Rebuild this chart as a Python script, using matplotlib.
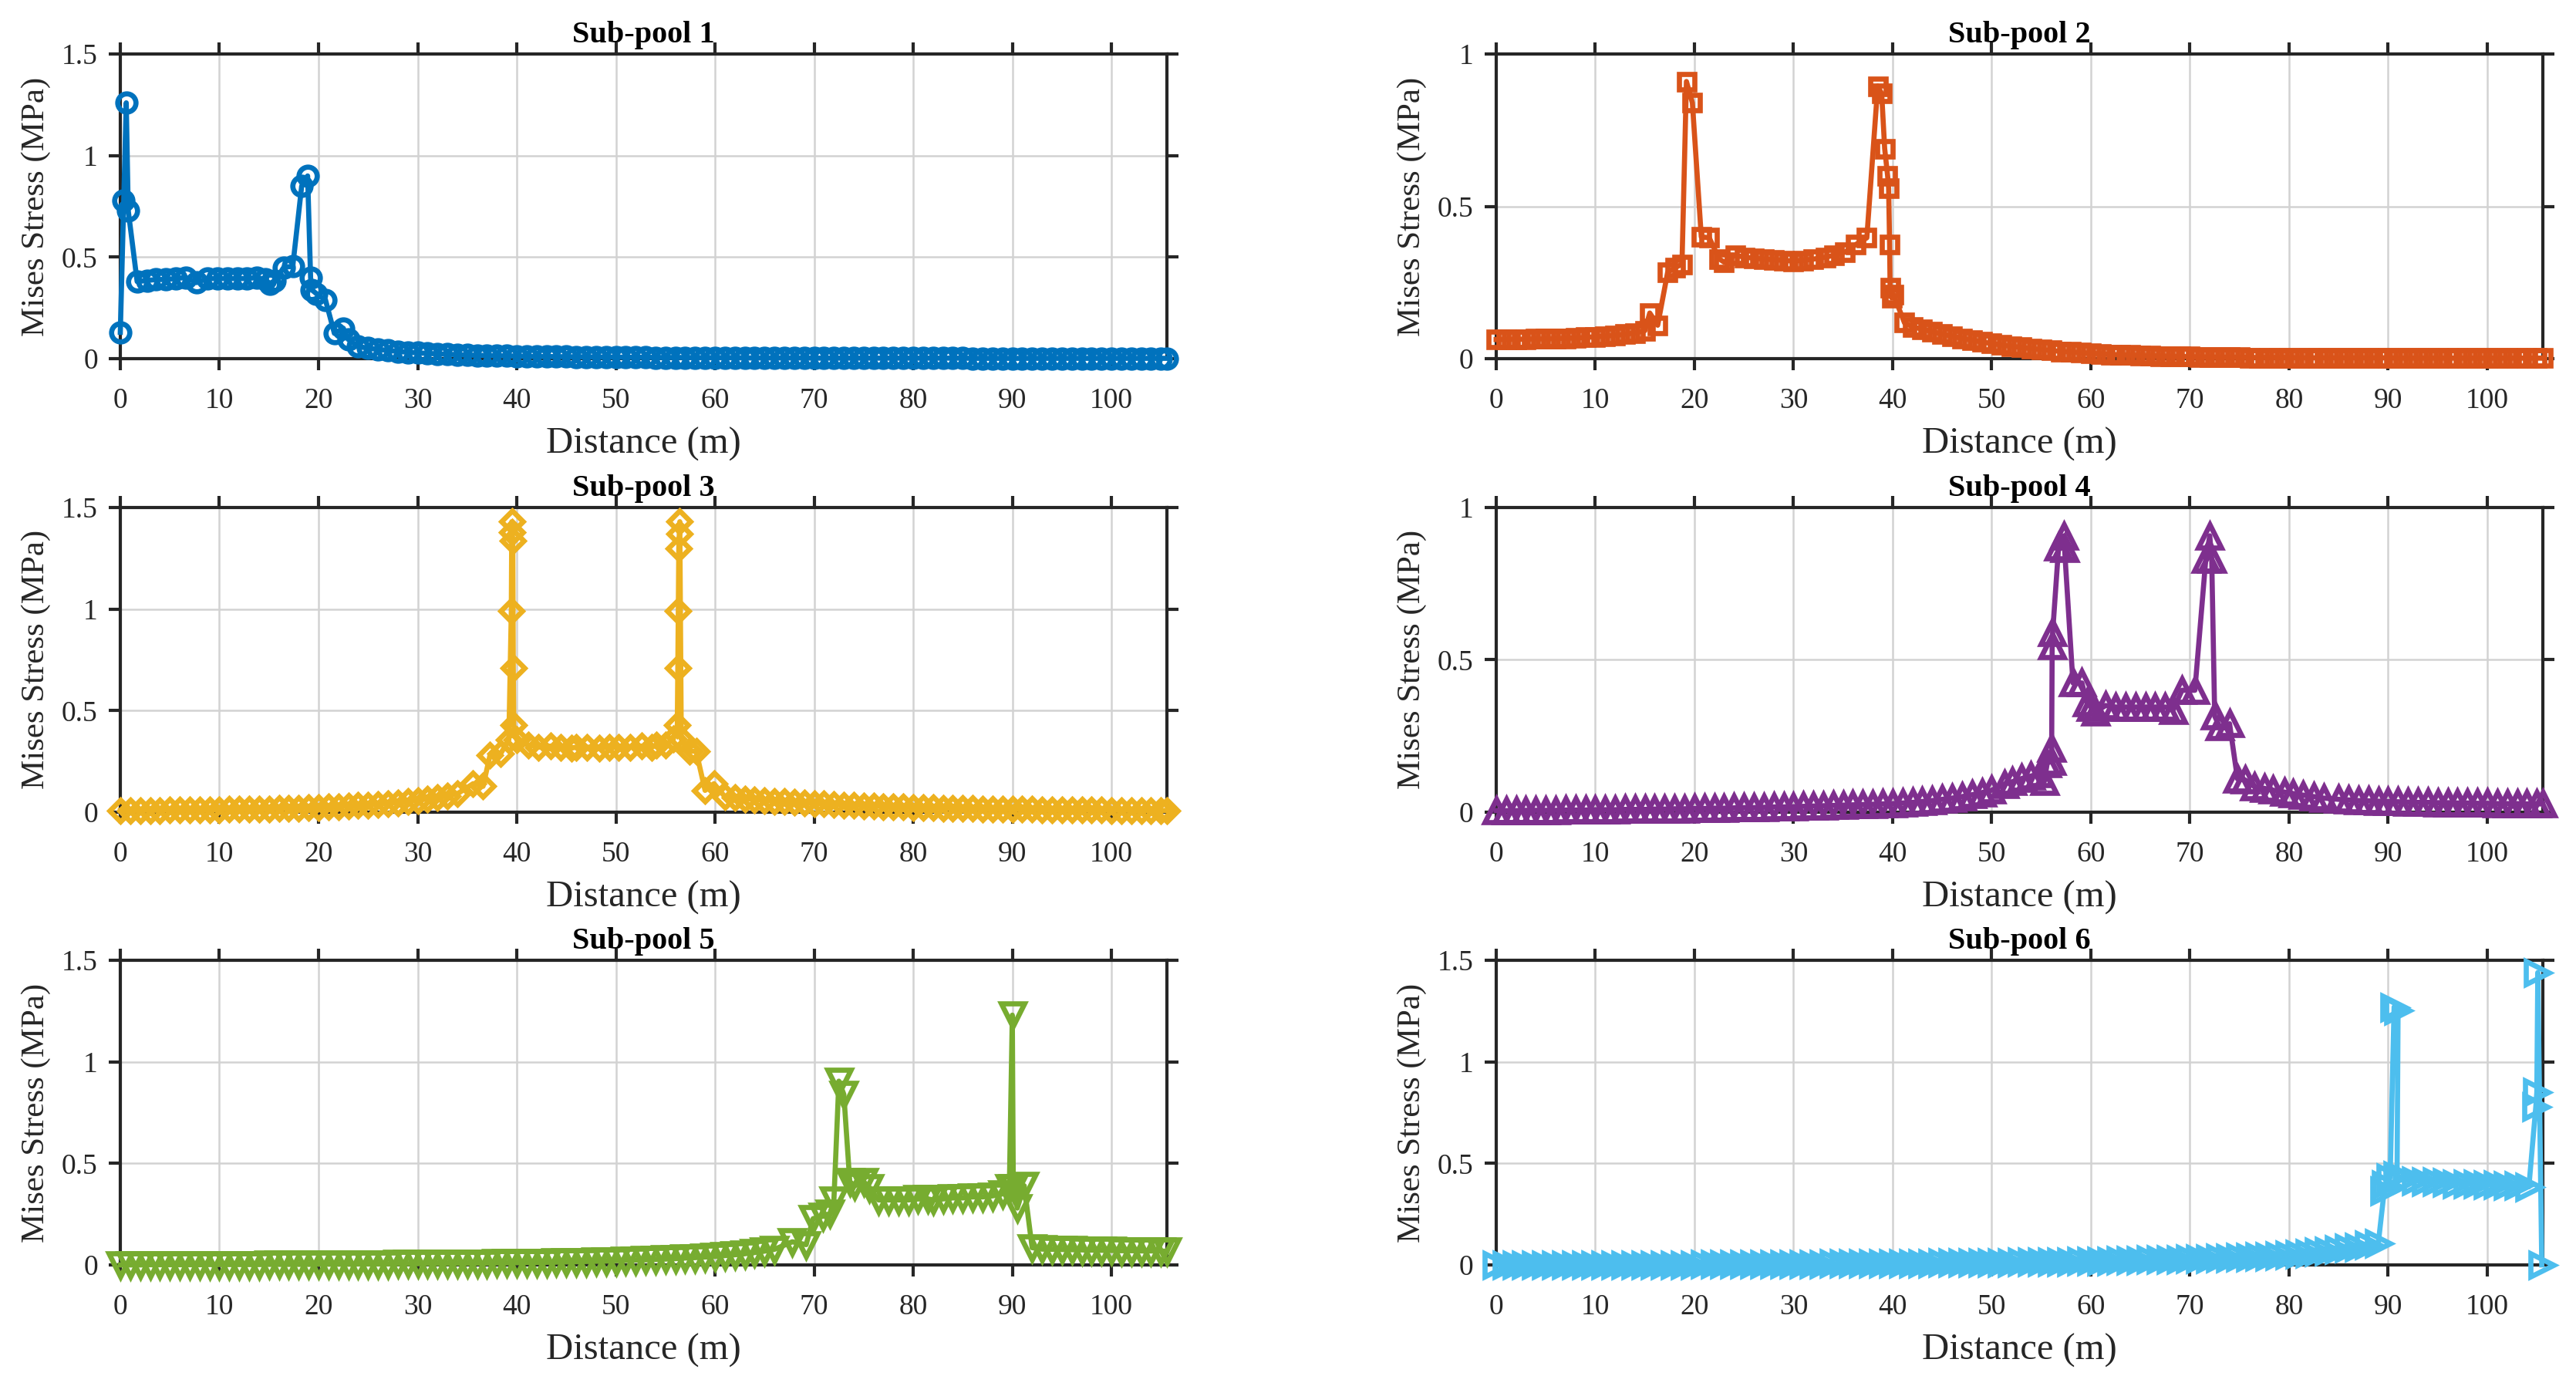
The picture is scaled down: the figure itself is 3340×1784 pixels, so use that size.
import matplotlib
matplotlib.use("Agg")
import matplotlib.pyplot as plt

plt.rcParams["font.family"] = ["Liberation Serif", "DejaVu Serif"]

# ---------------- data ----------------
grid_m = [0, 1, 2, 3, 4, 5, 6, 7, 8, 9, 10, 11, 12, 13, 14, 15, 16, 17, 18, 19,
          20, 21, 22, 23, 24, 25, 26, 27, 28, 29, 30, 31, 32, 33, 34, 35, 36, 37, 38, 39,
          40, 41, 42, 43, 44, 45, 46, 47, 48, 49, 50, 51, 52, 53, 54, 55, 56, 57, 58, 59,
          60, 61, 62, 63, 64, 65, 66, 67, 68, 69, 70, 71, 72, 73, 74, 75, 76, 77, 78, 79,
          80, 81, 82, 83, 84, 85, 86, 87, 88, 89, 90, 91, 92, 93, 94, 95, 96, 97, 98, 99,
          100, 101, 102, 103, 104, 105]
end_m = [105.6]

titles = ["Sub-pool 1", "Sub-pool 2", "Sub-pool 3", "Sub-pool 4", "Sub-pool 5", "Sub-pool 6"]
x_ticks = [0, 10, 20, 30, 40, 50, 60, 70, 80, 90, 100]
y_ticks_15 = [0, 0.5, 1, 1.5]
y_labels_15 = ["0", "0.5", "1", "1.5"]
y_ticks_10 = [0, 0.5, 1]
y_labels_10 = ["0", "0.5", "1"]

# Sub-pool 1
x1_peak = [0.0, 0.35, 0.6, 0.8, 1.7, 2.7, 3.6, 4.6, 5.6, 6.6, 7.7, 8.8, 9.8, 10.8, 11.8,
           12.8, 13.8, 14.6, 15.1, 15.6, 16.5, 17.4, 18.3, 18.9, 19.2, 19.3, 19.8, 20.7,
           21.6, 22.5, 23.0, 24.0]
y1_peak = [0.13, 0.78, 1.26, 0.73, 0.38, 0.385, 0.39, 0.39, 0.395, 0.40, 0.375, 0.395,
           0.395, 0.395, 0.395, 0.395, 0.40, 0.39, 0.37, 0.385, 0.45, 0.455, 0.85, 0.90,
           0.40, 0.34, 0.32, 0.29, 0.125, 0.15, 0.095, 0.06]
y1_tail = [0.052, 0.046, 0.041, 0.036, 0.032, 0.029, 0.026, 0.024, 0.022, 0.020,
           0.018, 0.017, 0.016, 0.015, 0.014, 0.013, 0.012, 0.011, 0.011, 0.010,
           0.010, 0.009, 0.009, 0.008, 0.008, 0.008, 0.007, 0.007, 0.007, 0.006,
           0.006, 0.006, 0.006, 0.005, 0.005, 0.005,
           0.005, 0.005, 0.004, 0.004, 0.004, 0.004, 0.004, 0.004, 0.004, 0.003,
           0.003, 0.003, 0.003, 0.003, 0.003, 0.003, 0.003, 0.003, 0.003, 0.003,
           0.003, 0.003, 0.003, 0.003, 0.003, 0.002, 0.002, 0.002, 0.002, 0.002,
           0.002, 0.002, 0.002, 0.002, 0.002, 0.002, 0.002, 0.002, 0.002, 0.002,
           0.002, 0.002, 0.002, 0.002, 0.002, 0.002]
x1 = x1_peak + grid_m[25:] + end_m
y1 = y1_peak + y1_tail

# Sub-pool 2
y2_head = [0.063, 0.063, 0.064, 0.064, 0.065, 0.065, 0.066, 0.067, 0.068, 0.070,
           0.072, 0.074, 0.077, 0.080, 0.085, 0.092]
x2_peak = [15.5, 16.3, 17.3, 18.1, 18.75, 19.2, 19.8, 20.7, 21.5, 22.5, 23.0, 24.1, 25.1,
           26.0, 27.0, 28.0, 29.0, 30.0, 31.0, 32.0, 33.2, 34.1, 35.2, 36.3, 37.4, 38.5,
           38.9, 39.2, 39.5, 39.6, 39.7, 39.75, 39.9, 40.1, 41.2]
y2_peak = [0.15, 0.11, 0.283, 0.30, 0.31, 0.91, 0.84, 0.40, 0.397, 0.328, 0.317, 0.34,
           0.333, 0.33, 0.327, 0.325, 0.323, 0.32, 0.323, 0.327, 0.333, 0.34, 0.35, 0.375,
           0.397, 0.895, 0.87, 0.69, 0.60, 0.56, 0.376, 0.232, 0.20, 0.21, 0.118]
y2_tail = [0.105, 0.097, 0.089, 0.081, 0.074, 0.067, 0.061, 0.055, 0.050, 0.045,
           0.041, 0.037, 0.033, 0.030, 0.027, 0.024, 0.022, 0.020, 0.018, 0.016,
           0.014, 0.013, 0.012, 0.011, 0.010, 0.009, 0.008, 0.007, 0.007,
           0.006, 0.006, 0.005, 0.005, 0.005, 0.004, 0.004, 0.004, 0.004, 0.004,
           0.003, 0.003, 0.003, 0.003, 0.003, 0.003, 0.003, 0.003, 0.003, 0.003,
           0.002, 0.002, 0.002, 0.002, 0.002, 0.002, 0.002, 0.002, 0.002, 0.002,
           0.002, 0.002, 0.002, 0.002, 0.002, 0.002]
x2 = grid_m[0:16] + x2_peak + grid_m[42:] + end_m
y2 = y2_head + y2_peak + y2_tail

# Sub-pool 3
y3_head = [0.008, 0.008, 0.009, 0.009, 0.009, 0.010, 0.010, 0.011, 0.011, 0.012,
           0.012, 0.013, 0.014, 0.014, 0.015, 0.016, 0.017, 0.018, 0.020, 0.021,
           0.023, 0.025, 0.027, 0.029, 0.032, 0.035, 0.038, 0.042, 0.047, 0.052,
           0.058, 0.065, 0.072, 0.080, 0.090]
x3_peak = [35.6, 36.6, 37.3, 38.4, 39.2, 39.45, 39.5, 39.55, 39.6, 39.65, 39.7, 40.0,
           41.2, 42.2, 43.4, 44.4, 45.5, 46.0, 47.1, 48.3, 49.3, 50.3, 51.4, 52.6, 53.6,
           54.1, 55.0, 55.8, 56.2, 56.25, 56.3, 56.35, 56.4, 56.45, 56.6, 57.4, 58.1,
           59.0, 59.9]
y3_peak = [0.14, 0.127, 0.28, 0.29, 0.355, 0.99, 1.43, 1.38, 1.335, 0.71, 0.43, 0.355,
           0.33, 0.32, 0.325, 0.32, 0.315, 0.32, 0.32, 0.315, 0.32, 0.32, 0.32, 0.325,
           0.32, 0.33, 0.33, 0.36, 0.43, 0.71, 0.99, 1.30, 1.37, 1.43, 0.36, 0.30, 0.30,
           0.107, 0.14]
y3_tail = [0.076, 0.071, 0.066, 0.062, 0.058, 0.054, 0.051, 0.048, 0.045, 0.042,
           0.040, 0.037, 0.035, 0.033, 0.031, 0.029, 0.028, 0.026, 0.025, 0.023,
           0.022, 0.021, 0.020, 0.019, 0.018, 0.017, 0.016, 0.015, 0.015, 0.014,
           0.013, 0.013, 0.012, 0.012, 0.011, 0.011, 0.010, 0.010, 0.010, 0.009,
           0.009, 0.009, 0.008, 0.008, 0.008, 0.008]
x3 = grid_m[0:35] + x3_peak + grid_m[61:] + end_m
y3 = y3_head + y3_peak + y3_tail

# Sub-pool 4
y4_head = [0.005, 0.005, 0.005, 0.006, 0.006, 0.006, 0.006, 0.007, 0.007, 0.007,
           0.008, 0.008, 0.008, 0.009, 0.009, 0.009, 0.010, 0.010, 0.011, 0.011,
           0.012, 0.012, 0.013, 0.013, 0.014, 0.015, 0.015, 0.016, 0.017, 0.017,
           0.018, 0.019, 0.020, 0.021, 0.022, 0.023, 0.024, 0.025, 0.026, 0.027,
           0.028, 0.030, 0.032, 0.035, 0.038, 0.042, 0.046, 0.051, 0.057, 0.064,
           0.072]
x4_peak = [51.3, 52.1, 53.0, 53.9, 54.9, 55.3, 55.6, 56.0, 56.05, 56.1, 56.15, 56.75,
           57.3, 57.35, 58.2, 59.1, 59.6, 60.0, 60.5, 61.5, 62.5, 63.5, 64.5, 65.5, 66.5,
           67.5, 68.3, 69.2, 70.5, 71.6, 72.0, 72.2, 72.5, 73.0, 74.0, 74.8, 75.6, 76.5,
           77.5, 78.4, 79.5, 80.4, 81.4, 82.5, 83.5]
y4_peak = [0.092, 0.10, 0.11, 0.118, 0.126, 0.10, 0.16, 0.168, 0.21, 0.546, 0.59, 0.87,
           0.907, 0.865, 0.424, 0.424, 0.36, 0.345, 0.33, 0.35, 0.345, 0.345, 0.345,
           0.345, 0.345, 0.345, 0.335, 0.40, 0.40, 0.83, 0.907, 0.83, 0.315, 0.28, 0.29,
           0.109, 0.105, 0.084, 0.078, 0.072, 0.066, 0.061, 0.056, 0.051, 0.046]
y4_tail = [0.042, 0.040, 0.038, 0.037, 0.036, 0.035, 0.034, 0.033, 0.032, 0.032,
           0.031, 0.031, 0.030, 0.030, 0.029, 0.029, 0.028, 0.028, 0.028, 0.027,
           0.027, 0.027]
x4 = grid_m[0:51] + x4_peak + grid_m[85:] + end_m
y4 = y4_head + y4_peak + y4_tail

# Sub-pool 5
y5_head = [0.000, 0.000, 0.000, 0.001, 0.001, 0.001, 0.001, 0.001, 0.001, 0.002,
           0.002, 0.002, 0.002, 0.002, 0.002, 0.003, 0.003, 0.003, 0.003, 0.003,
           0.004, 0.004, 0.004, 0.004, 0.005, 0.005, 0.005, 0.005, 0.006, 0.006,
           0.006, 0.007, 0.007, 0.007, 0.008, 0.008, 0.009, 0.009, 0.010, 0.010,
           0.011, 0.012, 0.012, 0.013, 0.014, 0.015, 0.016, 0.017, 0.018, 0.019,
           0.021, 0.022, 0.024, 0.025, 0.027, 0.029, 0.031, 0.034, 0.036, 0.039,
           0.042, 0.046, 0.050, 0.055, 0.061, 0.068, 0.077]
x5_peak = [67.8, 69.2, 69.9, 70.9, 71.6, 72.0, 72.5, 73.0, 73.6, 74.1, 75.0, 75.6, 76.5,
           77.5, 78.5, 79.5, 80.5, 81.5, 82.0, 83.0, 84.0, 85.0, 86.0, 87.0, 88.0, 89.0,
           89.7, 90.0, 90.1, 90.5, 91.2, 92.0]
y5_peak = [0.114, 0.10, 0.228, 0.24, 0.253, 0.32, 0.905, 0.84, 0.41, 0.39, 0.41, 0.38,
           0.32, 0.32, 0.32, 0.32, 0.325, 0.325, 0.32, 0.325, 0.33, 0.33, 0.335, 0.335,
           0.34, 0.35, 0.38, 1.23, 0.38, 0.28, 0.39, 0.085]
y5_tail = [0.078, 0.077, 0.076, 0.075, 0.074, 0.073, 0.072, 0.071, 0.070, 0.070,
           0.069, 0.069, 0.068, 0.068]
x5 = grid_m[0:67] + x5_peak + grid_m[93:] + end_m
y5 = y5_head + y5_peak + y5_tail

# Sub-pool 6
y6_head = [0.000, 0.000, 0.000, 0.000, 0.000, 0.000, 0.001, 0.001, 0.001, 0.001,
           0.001, 0.001, 0.001, 0.001, 0.001, 0.002, 0.002, 0.002, 0.002, 0.002,
           0.002, 0.003, 0.003, 0.003, 0.003, 0.003, 0.004, 0.004, 0.004, 0.004,
           0.005, 0.005, 0.005, 0.005, 0.006, 0.006, 0.006, 0.007, 0.007, 0.007,
           0.008, 0.008, 0.009, 0.009, 0.009, 0.010, 0.010, 0.011, 0.011, 0.012,
           0.012, 0.013, 0.013, 0.014, 0.015, 0.015, 0.016, 0.017, 0.017, 0.018,
           0.019, 0.020, 0.021, 0.022, 0.023, 0.024, 0.025, 0.026, 0.027, 0.028,
           0.030, 0.031, 0.032, 0.034, 0.035, 0.037, 0.039, 0.041, 0.043, 0.045,
           0.048, 0.052, 0.058, 0.064, 0.070, 0.076, 0.083, 0.089, 0.097]
x6_peak = [89.0, 89.6, 89.7, 90.2, 90.6, 91.0, 90.9, 91.8, 92.8, 93.8, 94.9, 95.9, 96.9,
           98.0, 99.0, 100.0, 101.0, 102.0, 103.1, 104.2, 104.9, 105.0, 105.1, 105.5]
y6_peak = [0.105, 0.364, 0.395, 0.43, 1.27, 1.255, 0.44, 0.42, 0.415, 0.41, 0.41, 0.405,
           0.40, 0.40, 0.40, 0.395, 0.395, 0.39, 0.39, 0.385, 0.78, 0.85, 1.44, 0.0]
x6 = grid_m[0:89] + x6_peak
y6 = y6_head + y6_peak

series_x = [x1, x2, x3, x4, x5, x6]
series_y = [y1, y2, y3, y4, y5, y6]
y_max = [1.5, 1.0, 1.5, 1.0, 1.5, 1.5]

# ---------------- style ----------------
colors = ["#0072BD", "#D95319", "#EDB120", "#7E2F8E", "#77AC30", "#4DBEEE"]
markers = ["o", "s", "D", "^", "v", ">"]
msizes = [8.5, 7.2, 7.0, 11.0, 11.0, 11.0]
axc = "#262626"

fig = plt.figure(figsize=(16.7, 8.92), dpi=200)
lefts = [0.0467, 0.5808]
bottoms = [0.7393, 0.4098, 0.0807]
w, h = 0.4063, 0.2214

for i in range(6):
    r, c = divmod(i, 2)
    ax = fig.add_axes([lefts[c], bottoms[r], w, h])
    ax.plot(series_x[i], series_y[i], color=colors[i], marker=markers[i],
            ms=msizes[i], mfc="none", mew=2.4, lw=2.4, clip_on=False, zorder=3)
    ax.set_xlim(0, 105.6)
    ax.set_ylim(0, y_max[i])
    ax.set_xticks(x_ticks)
    ax.set_xticklabels([str(v) for v in x_ticks])
    if y_max[i] > 1.2:
        ax.set_yticks(y_ticks_15)
        ax.set_yticklabels(y_labels_15)
    else:
        ax.set_yticks(y_ticks_10)
        ax.set_yticklabels(y_labels_10)
    ax.grid(True, color="#d2d2d2", lw=0.9)
    ax.set_axisbelow(True)
    ax.tick_params(direction="out", top=True, right=True, length=5.5, width=1.5,
                   colors=axc, labelsize=13.5)
    ax.tick_params(axis="x", pad=8)
    ax.tick_params(axis="y", pad=5)
    for s in ax.spines.values():
        s.set_linewidth(1.5)
        s.set_color(axc)
    ax.set_xlabel("Distance (m)", fontsize=17.5, color=axc, labelpad=6)
    ax.set_ylabel("Mises Stress (MPa)", fontsize=15.5, color=axc, labelpad=5)
    ax.text(0.5, 1.038, titles[i], transform=ax.transAxes, ha="center",
            va="baseline", fontsize=14.5, fontweight="bold", color="black")

fig.savefig("out.png", dpi=200)
